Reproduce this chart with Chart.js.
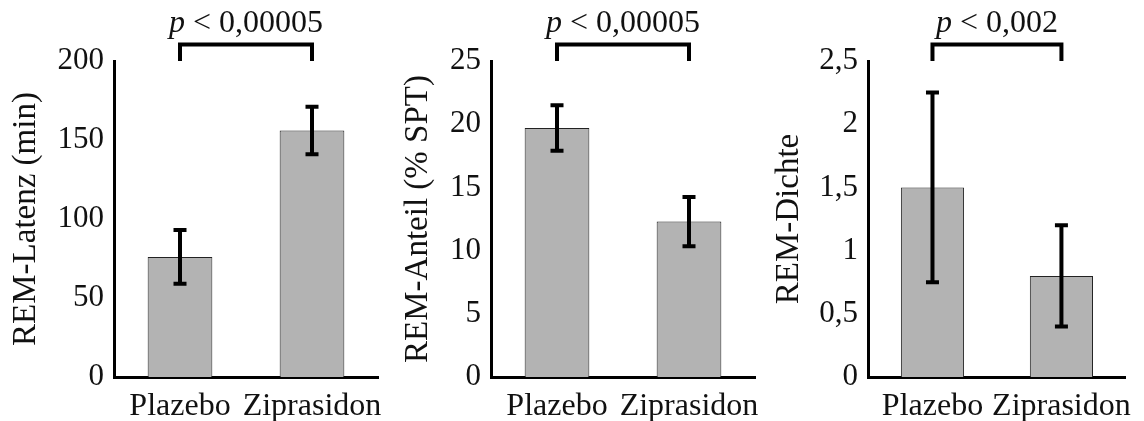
<!DOCTYPE html>
<html>
<head>
<meta charset="utf-8">
<script src="https://cdn.jsdelivr.net/npm/chart.js@4/dist/chart.umd.min.js"></script>
<style>
  html, body { margin: 0; padding: 0; background: #fff; }
  #wrap { position: relative; width: 1144px; height: 421px; }
  #wrap canvas { position: absolute; left: 0; top: 0; }
</style>
</head>
<body>
<div id="wrap">
  <canvas id="c1" width="1144" height="421"></canvas>
  <canvas id="c2" width="1144" height="421"></canvas>
  <canvas id="c3" width="1144" height="421"></canvas>
</div>
<script>
// data
const categories = ['Plazebo', 'Ziprasidon'];

const latenzMean = [76, 156];
const latenzErr = [17, 15];

const anteilMean = [19.7, 12.3];
const anteilErr = [1.8, 1.95];

const dichteMean = [1.5, 0.8];
const dichteErr = [0.75, 0.4];

const yTitles = ['REM-Latenz (min)', 'REM-Anteil (% SPT)', 'REM-Dichte'];
const yMax = [200, 25, 2.5];
const yStep = [50, 5, 0.5];
const pLabels = ['0,00005', '0,00005', '0,002'];

const FONT = "'Liberation Serif', 'Times New Roman', serif";

// error bars, bracket and p value text
const annotate = {
    id: 'annotate',
    afterDatasetsDraw(chart, args, opts) {
        const { ctx, chartArea } = chart;
        const x = chart.scales.x, y = chart.scales.y;
        ctx.save();
        ctx.strokeStyle = '#000';
        ctx.lineWidth = 4;
        ctx.lineCap = 'butt';
        ctx.lineJoin = 'miter';
        opts.errors.forEach((e, i) => {
            const cx = x.getPixelForValue(i);
            const v = opts.means[i];
            const yTop = y.getPixelForValue(v + e);
            const yBot = y.getPixelForValue(v - e);
            ctx.beginPath();
            ctx.moveTo(cx, yTop); ctx.lineTo(cx, yBot);
            ctx.moveTo(cx - 6.5, yTop); ctx.lineTo(cx + 6.5, yTop);
            ctx.moveTo(cx - 6.5, yBot); ctx.lineTo(cx + 6.5, yBot);
            ctx.stroke();
        });

        const x0 = x.getPixelForValue(0);
        const x1 = x.getPixelForValue(1);
        const by = chartArea.top - 16.5;
        ctx.beginPath();
        ctx.moveTo(x0, chartArea.top);
        ctx.lineTo(x0, by);
        ctx.lineTo(x1, by);
        ctx.lineTo(x1, chartArea.top);
        ctx.stroke();

        const italic = 'italic 32px ' + FONT;
        const normal = '32px ' + FONT;
        const rest = ' < ' + opts.p;
        ctx.font = italic;
        const wP = ctx.measureText('p').width;
        ctx.font = normal;
        const wR = ctx.measureText(rest).width;
        const start = (x0 + x1) / 2 - (wP + wR) / 2;
        const base = chartArea.top - 29;
        ctx.fillStyle = '#111';
        ctx.textBaseline = 'alphabetic';
        ctx.textAlign = 'left';
        ctx.font = italic;
        ctx.fillText('p', start, base);
        ctx.font = normal;
        ctx.fillText(rest, start + wP, base);
        ctx.restore();
    }
};

function makePanel(id, idx, means, errors, padLeft, yWidth, padRight) {
    const canvas = document.getElementById(id);
    return new Chart(canvas, {
        type: 'bar',
        data: {
            labels: categories,
            datasets: [{
                data: means,
                backgroundColor: '#b3b3b3',
                borderColor: '#222',
                borderWidth: 1,
                barPercentage: 0.49,
                categoryPercentage: 1
            }]
        },
        options: {
            responsive: false,
            animation: false,
            layout: { padding: { top: 61, bottom: 0, left: padLeft, right: padRight } },
            plugins: {
                legend: { display: false },
                tooltip: { enabled: false },
                annotate: { means: means, errors: errors, p: pLabels[idx] }
            },
            scales: {
                x: {
                    grid: { display: false, drawTicks: false },
                    border: { display: true, color: '#000', width: 3 },
                    ticks: {
                        color: '#111',
                        padding: 10,
                        maxRotation: 0,
                        autoSkip: false,
                        font: { family: FONT, size: 32 }
                    },
                    afterFit(scale) { scale.height = 44; }
                },
                y: {
                    min: 0,
                    max: yMax[idx],
                    grid: { display: false, drawTicks: false },
                    border: { display: true, color: '#000', width: 3 },
                    ticks: {
                        stepSize: yStep[idx],
                        color: '#111',
                        padding: 10,
                        font: { family: FONT, size: 31 },
                        callback: v => String(v).replace('.', ',')
                    },
                    title: {
                        display: true,
                        text: yTitles[idx],
                        color: '#111',
                        padding: { top: 0, bottom: 0 },
                        font: { family: FONT, size: 33 }
                    },
                    afterFit(scale) { scale.width = yWidth; }
                }
            }
        },
        plugins: [annotate]
    });
}

makePanel('c1', 0, latenzMean, latenzErr, 7, 107, 766);
makePanel('c2', 1, anteilMean, anteilErr, 399, 92, 389);
makePanel('c3', 2, dichteMean, dichteErr, 770, 98, 13);
</script>
</body>
</html>
